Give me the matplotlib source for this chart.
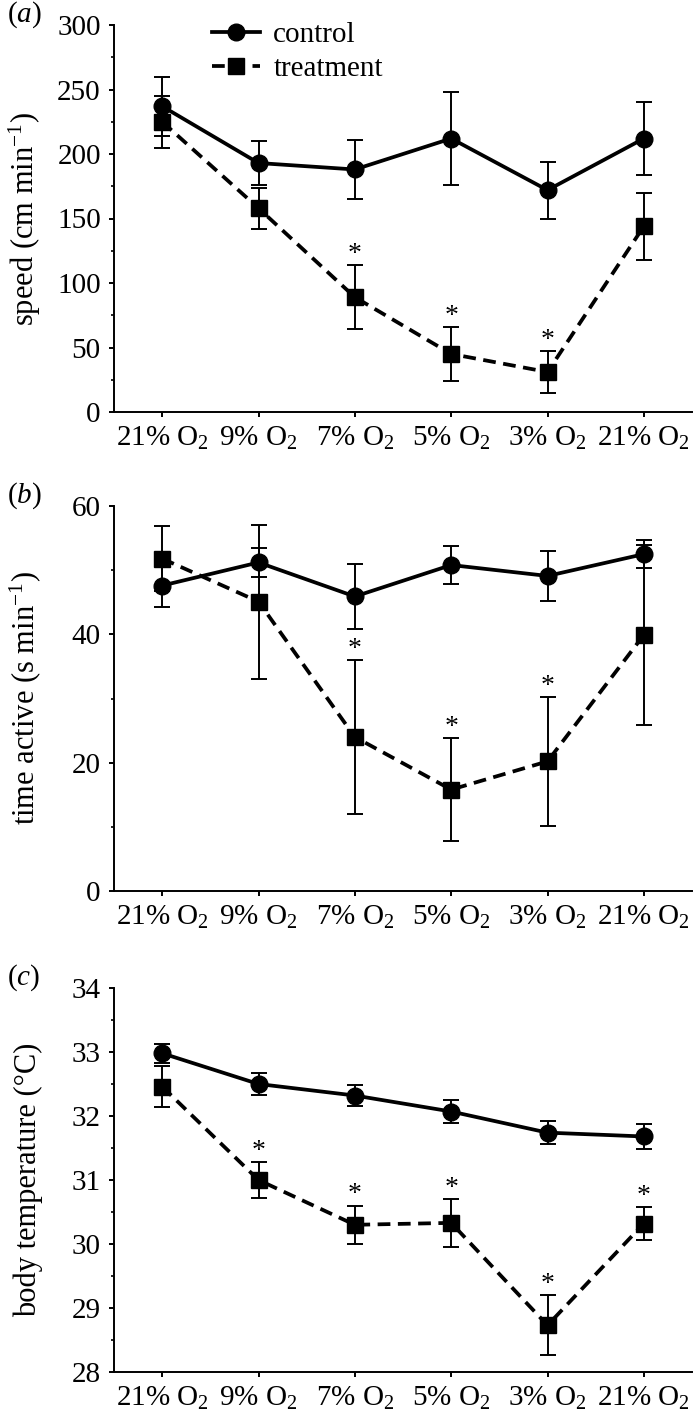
"""Three stacked panels: speed, time active and body temperature under
stepwise hypoxia, control vs. treatment (mean +/- error, * = significant)."""

import matplotlib
matplotlib.use("Agg")
import matplotlib.pyplot as plt
from matplotlib.ticker import MultipleLocator

plt.rcParams["font.family"] = ["Liberation Serif", "DejaVu Serif"]
plt.rcParams["mathtext.fontset"] = "custom"
plt.rcParams["mathtext.rm"] = "Liberation Serif"
plt.rcParams["mathtext.it"] = "Liberation Serif:italic"

conditions = ["21% O$_2$", "9% O$_2$", "7% O$_2$", "5% O$_2$", "3% O$_2$", "21% O$_2$"]

speed_ctrl = [237, 193, 188, 212, 172, 212]
speed_ctrl_err = [23, 17, 23, 36, 22, 28]
speed_trt = [225, 158, 89, 45, 31, 144]
speed_trt_err = [20, 16, 25, 21, 16, 26]
speed_sig = [False, False, True, True, True, False]

active_ctrl = [47.6, 51.2, 45.9, 50.8, 49.1, 52.5]
active_ctrl_err = [3.3, 2.3, 5.1, 3.0, 3.9, 2.2]
active_trt = [51.8, 45.1, 24.0, 15.8, 20.2, 39.9]
active_trt_err = [5.1, 12.0, 12.0, 8.0, 10.0, 14.0]
active_sig = [False, False, True, True, True, False]

temp_ctrl = [32.98, 32.50, 32.32, 32.07, 31.74, 31.68]
temp_ctrl_err = [0.15, 0.17, 0.17, 0.18, 0.18, 0.20]
temp_trt = [32.46, 31.00, 30.30, 30.33, 28.73, 30.32]
temp_trt_err = [0.32, 0.28, 0.30, 0.37, 0.47, 0.26]
temp_sig = [False, True, True, True, True, True]

FS = 21
INK = "black"
DASH = (0, (3.4, 2.0))

W, H = 693, 1428
fig = plt.figure(figsize=(W / 100, H / 100), dpi=100)


def panel(rect, letter, ctrl, ctrl_err, trt, trt_err, sig, ylim, major, minor, ylabel,
          legend=False):
    # rect given in pixels from the top-left: (left, top, right, bottom)
    l, t, r, b = rect
    ax = fig.add_axes([l / W, 1 - b / H, (r - l) / W, (b - t) / H])
    x = list(range(len(conditions)))

    eb_t = ax.errorbar(x, trt, yerr=trt_err, color=INK, ls=DASH, lw=2.7, marker="s",
                       ms=11.5, elinewidth=1.4, capsize=6, capthick=1.4, zorder=3)
    eb_c = ax.errorbar(x, ctrl, yerr=ctrl_err, color=INK, ls="-", lw=2.7, marker="o",
                       ms=12, elinewidth=1.4, capsize=6, capthick=1.4, zorder=4)

    top = [v + e for v, e in zip(trt, trt_err)]
    for xi, s, y in zip(x, sig, top):
        if s:
            ax.annotate("*", (xi, y), xytext=(0, 3), textcoords="offset points",
                        ha="center", va="baseline", fontsize=20, color=INK)

    ax.set_xlim(-0.5, len(conditions) - 0.5)
    ax.set_ylim(*ylim)
    ax.yaxis.set_major_locator(MultipleLocator(major))
    ax.yaxis.set_minor_locator(MultipleLocator(minor))
    ax.set_xticks(x)
    ax.set_xticklabels(conditions)

    for side in ("top", "right"):
        ax.spines[side].set_visible(False)
    for side in ("left", "bottom"):
        ax.spines[side].set_linewidth(1.4)
    ax.tick_params(axis="both", which="major", direction="out", length=3.5, width=1.4,
                   labelsize=FS, pad=6)
    ax.tick_params(axis="y", which="minor", direction="out", length=2.5, width=1.2)

    ax.set_ylabel(ylabel, fontsize=22)
    ax.yaxis.set_label_coords(-0.122, 0.5)

    fig.text(7 / W, 1 - (t - 10) / H, f"($\\mathit{{{letter}}}$)", fontsize=FS,
             ha="left", va="center")

    if legend:
        # plain line+marker handles, no error bars in the key
        ax.legend([eb_c[0], eb_t[0]], ["control", "treatment"], loc="upper left",
                  bbox_to_anchor=(212 / W, 1 - 22 / H), bbox_transform=fig.transFigure,
                  frameon=False, fontsize=FS, handlelength=1.65, handletextpad=0.45,
                  labelspacing=0.25, borderpad=0, borderaxespad=0, numpoints=1)
    return ax


panel((114, 25, 692, 412), "a", speed_ctrl, speed_ctrl_err, speed_trt, speed_trt_err,
      speed_sig, (0, 300), 50, 25, "speed (cm min$^{-1}$)", legend=True)
panel((114, 506, 692, 891), "b", active_ctrl, active_ctrl_err, active_trt, active_trt_err,
      active_sig, (0, 60), 20, 10, "time active (s min$^{-1}$)")
panel((114, 988, 692, 1372), "c", temp_ctrl, temp_ctrl_err, temp_trt, temp_trt_err,
      temp_sig, (28, 34), 1, 0.5, "body temperature (°C)")

fig.savefig("out.png", dpi=100)
plt.close(fig)
